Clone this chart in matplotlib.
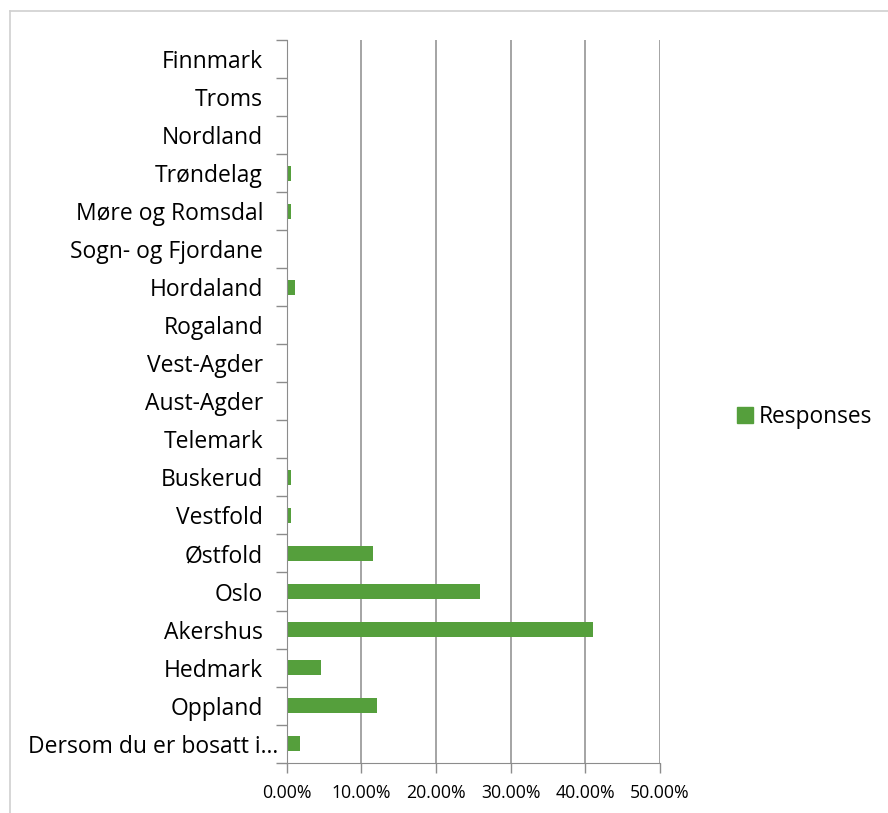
import numpy as np
import matplotlib.pyplot as plt
from matplotlib.lines import Line2D
from matplotlib.transforms import ScaledTranslation

plt.rcParams['font.family'] = ['Open Sans', 'DejaVu Sans']

# bottom to top, as drawn
regions = [
    "Dersom du er bosatt i…",
    "Oppland",
    "Hedmark",
    "Akershus",
    "Oslo",
    "Østfold",
    "Vestfold",
    "Buskerud",
    "Telemark",
    "Aust-Agder",
    "Vest-Agder",
    "Rogaland",
    "Hordaland",
    "Sogn- og Fjordane",
    "Møre og Romsdal",
    "Trøndelag",
    "Nordland",
    "Troms",
    "Finnmark",
]
responses = [1.73, 12.14, 4.62, 41.04, 25.84, 11.56, 0.58, 0.58, 0, 0, 0, 0,
             1.16, 0, 0.58, 0.58, 0, 0, 0]
x_ticks = [0, 10, 20, 30, 40, 50]

green = "#559f3c"
grid_c = "#8c8c8c"

fig = plt.figure(figsize=(8.88, 8.13), dpi=100)
ax = fig.add_axes([0.3229, 0.0619, 0.4203, 0.8889])

y = np.arange(len(regions))
ax.barh(y, responses, height=0.4, color=green, zorder=3)

ax.set_xlim(0, 50)
ax.set_ylim(-0.5, len(regions) - 0.5)
ax.set_xticks(x_ticks)
ax.set_xticklabels([f"{v:.2f}%" for v in x_ticks], fontsize=12.7)
ax.set_yticks(y)
ax.set_yticklabels(regions, fontsize=16.5)
ax.tick_params(axis='y', length=0, pad=17)
ax.tick_params(axis='x', length=7, width=1, color=grid_c, pad=8)

# truncated label sits closer to the axis
lab = ax.get_yticklabels()[0]
lab.set_transform(lab.get_transform() + ScaledTranslation(0.15, 0, fig.dpi_scale_trans))

# category boundary ticks on the left axis
ax.set_yticks(np.arange(len(regions) + 1) - 0.5, minor=True)
ax.tick_params(axis='y', which='minor', length=8, width=1, color=grid_c)

ax.grid(axis='x', color=grid_c, linewidth=1.1, zorder=0)
for s in ['top', 'right']:
    ax.spines[s].set_visible(False)
ax.spines['left'].set_color(grid_c)
ax.spines['bottom'].set_color(grid_c)
ax.spines['left'].set_zorder(4)

handle = Line2D([], [], marker='s', linestyle='none', markersize=11,
                color=green)
fig.legend([handle], ["Responses"], loc='center left',
           bbox_to_anchor=(0.804, 0.487), frameon=False, fontsize=16.4,
           handletextpad=0.15, handlelength=0.9)

# light frame around the chart area
frame = "#d0d0d0"
fig.add_artist(Line2D([0.0113, 1.0], [0.9865, 0.9865], color=frame, lw=1.2,
                      transform=fig.transFigure))
fig.add_artist(Line2D([0.0113, 0.0113], [0.0, 0.9865], color=frame, lw=1.2,
                      transform=fig.transFigure))

fig.savefig("out.png", dpi=100, facecolor="white")
